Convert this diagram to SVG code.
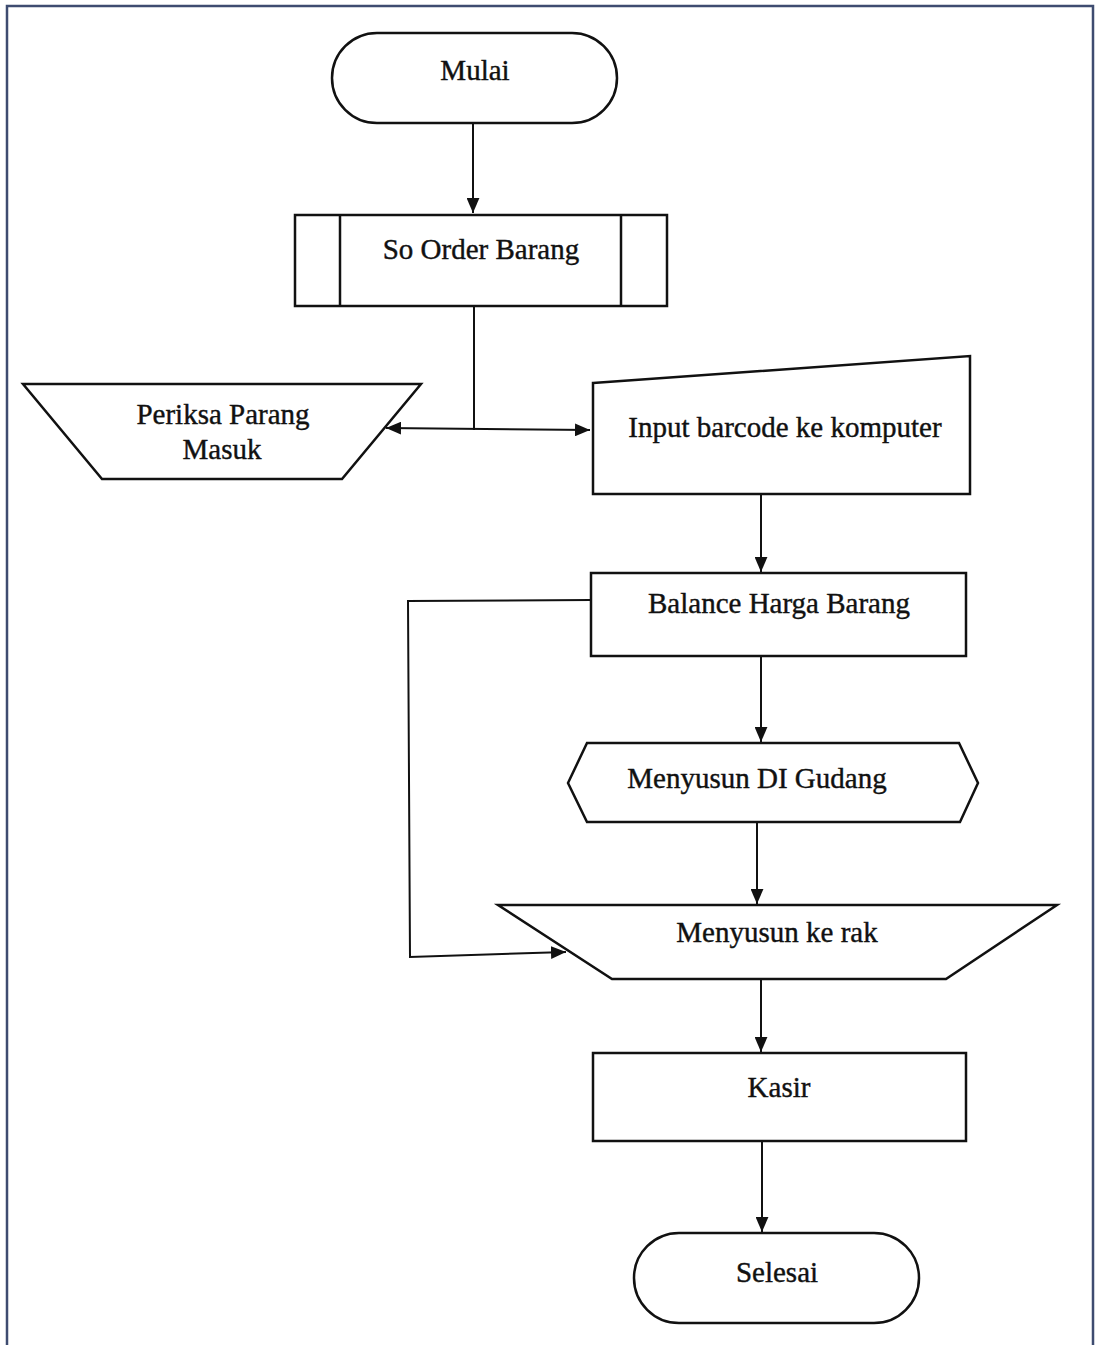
<svg xmlns="http://www.w3.org/2000/svg" width="1096" height="1345" viewBox="0 0 1096 1345">
<style>
.shape{fill:#ffffff;stroke:#111111;stroke-width:2.5;stroke-linejoin:miter}
.lbl{font-family:"Liberation Serif","Times New Roman",serif;font-size:29px;fill:#111111;stroke:#111111;stroke-width:0.4;text-anchor:middle}
.conn{fill:none;stroke:#111111;stroke-width:2}
</style>
<defs>
<marker id="arr" viewBox="0 0 14 12" refX="14" refY="6" markerWidth="15" markerHeight="13" markerUnits="userSpaceOnUse" orient="auto-start-reverse">
<path d="M0,0 L14,6 L0,12 z" fill="#111111"/>
</marker>
</defs>
<rect x="0" y="0" width="1096" height="1345" fill="#ffffff"/>
<path d="M7,1345 V6 H1093 V1345" fill="none" stroke="#3e4c70" stroke-width="2.5"/>

<g id="connectors">
<line class="conn" x1="473" y1="123" x2="473" y2="213" marker-end="url(#arr)"/>
<line class="conn" x1="474" y1="306" x2="474" y2="430"/>
<line class="conn" x1="386" y1="428" x2="590" y2="430" marker-start="url(#arr)" marker-end="url(#arr)"/>
<line class="conn" x1="761" y1="494" x2="761" y2="572" marker-end="url(#arr)"/>
<line class="conn" x1="761" y1="656" x2="761" y2="742" marker-end="url(#arr)"/>
<polyline class="conn" points="591,600 408,601 410,957 566,952" marker-end="url(#arr)"/>
<line class="conn" x1="757" y1="822" x2="757" y2="904" marker-end="url(#arr)"/>
<line class="conn" x1="761" y1="979" x2="761" y2="1052" marker-end="url(#arr)"/>
<line class="conn" x1="762" y1="1141" x2="762" y2="1232" marker-end="url(#arr)"/>
</g>

<g id="mulai">
<rect class="shape" x="332" y="33" width="285" height="90" rx="45" ry="45"/>
<text class="lbl" x="475" y="80">Mulai</text>
</g>

<g id="so-order-barang">
<rect class="shape" x="295" y="215" width="372" height="91"/>
<line class="shape" x1="340" y1="215" x2="340" y2="306"/>
<line class="shape" x1="621" y1="215" x2="621" y2="306"/>
<text class="lbl" x="481" y="259">So Order Barang</text>
</g>

<g id="periksa-parang-masuk">
<polygon class="shape" points="23,384 421,384 342,479 102,479"/>
<text class="lbl" x="223" y="424">Periksa Parang</text>
<text class="lbl" x="222" y="459">Masuk</text>
</g>

<g id="input-barcode">
<polygon class="shape" points="593,383 970,356 970,494 593,494"/>
<text class="lbl" x="785" y="437">Input barcode ke komputer</text>
</g>

<g id="balance-harga-barang">
<rect class="shape" x="591" y="573" width="375" height="83"/>
<text class="lbl" x="779" y="613">Balance Harga Barang</text>
</g>

<g id="menyusun-di-gudang">
<polygon class="shape" points="568,783 587,743 959,743 978,783 960,822 587,822"/>
<text class="lbl" x="757" y="788">Menyusun DI Gudang</text>
</g>

<g id="menyusun-ke-rak">
<polygon class="shape" points="498,905 1057,905 946,979 612,979"/>
<text class="lbl" x="777" y="942">Menyusun ke rak</text>
</g>

<g id="kasir">
<rect class="shape" x="593" y="1053" width="373" height="88"/>
<text class="lbl" x="779" y="1097">Kasir</text>
</g>

<g id="selesai">
<rect class="shape" x="634" y="1233" width="285" height="90" rx="45" ry="45"/>
<text class="lbl" x="777" y="1282">Selesai</text>
</g>
</svg>
